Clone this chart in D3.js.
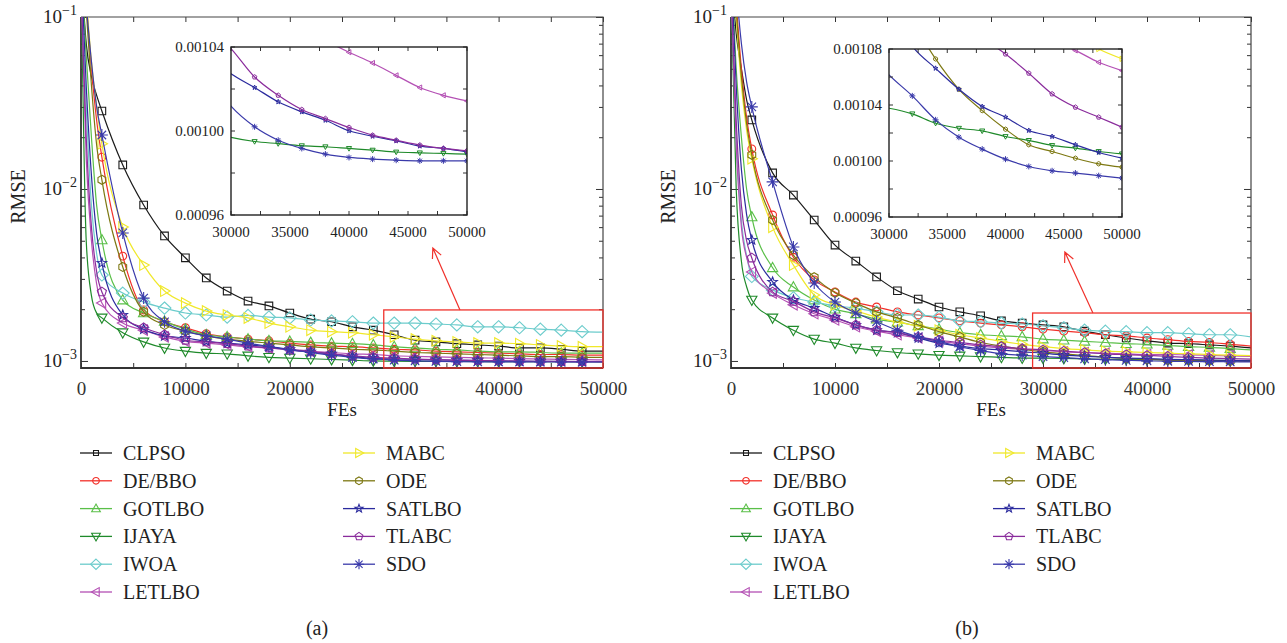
<!DOCTYPE html>
<html>
<head>
<meta charset="utf-8">
<script src="https://cdn.jsdelivr.net/npm/d3@7"></script>
<style>
  body { margin: 0; background: #fff; }
  svg { display: block; font-family: "Liberation Serif", "Times New Roman", serif; }
</style>
</head>
<body>
<svg id="chart" width="1287" height="643"></svg>
<script>
// ---------------- data ----------------
const fes = [0, 500, 1000, 1500, 2000, 4000, 6000, 8000, 10000, 12000, 14000, 16000, 18000, 20000,
  22000, 24000, 26000, 28000, 30000, 32000, 34000, 36000, 38000, 40000, 42000, 44000, 46000, 48000, 50000]
const mainMarkerFes = [2000, 4000, 6000, 8000, 10000, 12000, 14000, 16000, 18000, 20000, 22000, 24000,
  26000, 28000, 30000, 32000, 34000, 36000, 38000, 40000, 42000, 44000, 46000, 48000]
const insetMarkerFes = [32000, 34000, 36000, 38000, 40000, 42000, 44000, 46000, 48000, 50000]

const methods = ['CLPSO', 'DE/BBO', 'GOTLBO', 'IJAYA', 'IWOA', 'LETLBO', 'MABC', 'ODE', 'SATLBO', 'TLABC', 'SDO']
const colors = ['#1a1a1a', '#f2302a', '#5abf48', '#1f8a2a', '#6ccccc', '#b450b4', '#f0e82a', '#7d7812', '#2b2b9e', '#8a2c9c', '#3a3aaa']
const shapes = ['square', 'circle', 'triUp', 'triDown', 'diamond', 'triLeft', 'triRight', 'hexagon', 'star', 'pentagon', 'asterisk']

// panel (a)
const clpsoA = [0.2, 0.07, 0.045, 0.035, 0.0284, 0.0138, 0.00807, 0.00533, 0.00398, 0.00304, 0.00255, 0.00223, 0.00209, 0.0019, 0.00175, 0.00169, 0.00158, 0.00151, 0.00142, 0.00132, 0.00129, 0.00126, 0.00124, 0.00122, 0.00119, 0.00119, 0.00117, 0.00114, 0.00114]
const debboA = [0.3, 0.12, 0.05, 0.025, 0.0153, 0.00407, 0.00198, 0.00169, 0.00156, 0.00144, 0.00138, 0.00134, 0.00131, 0.00127, 0.00124, 0.00122, 0.00121, 0.00119, 0.00117, 0.00116, 0.00114, 0.00113, 0.00112, 0.00111, 0.0011, 0.00109, 0.00109, 0.00108, 0.00108]
const gotlboA = [0.2, 0.06, 0.02, 0.008, 0.00505, 0.00226, 0.0019, 0.0017, 0.00153, 0.00142, 0.00138, 0.00134, 0.00131, 0.0013, 0.00128, 0.00127, 0.00126, 0.00124, 0.00121, 0.00119, 0.00117, 0.00116, 0.00114, 0.00113, 0.00113, 0.00112, 0.00111, 0.00111, 0.00111]
const ijayaA = [0.2, 0.005, 0.0024, 0.0019, 0.00178, 0.00146, 0.00129, 0.00119, 0.00114, 0.00111, 0.0011, 0.00107, 0.00105, 0.00104, 0.00103, 0.00102, 0.00101, 0.001, 0.000997, 0.000995, 0.000994, 0.000993, 0.0009925, 0.0009917, 0.0009909, 0.00099, 0.0009896, 0.0009893, 0.000989]
const iwoaA = [0.15, 0.03, 0.008, 0.0042, 0.00316, 0.00248, 0.0022, 0.00203, 0.0019, 0.00185, 0.0018, 0.00184, 0.0018, 0.00178, 0.00173, 0.00171, 0.00169, 0.00166, 0.00166, 0.00166, 0.00164, 0.00162, 0.00158, 0.00158, 0.00156, 0.00153, 0.00151, 0.00148, 0.00147]
const letlboA = [0.15, 0.015, 0.005, 0.0028, 0.00217, 0.00166, 0.00151, 0.00138, 0.0013, 0.00127, 0.00124, 0.00121, 0.00119, 0.00117, 0.00114, 0.00112, 0.0011, 0.00109, 0.001072, 0.001063, 0.001055, 0.001048, 0.001043, 0.0010375, 0.0010324, 0.0010265, 0.0010207, 0.001017, 0.0010143]
const mabcA = [0.3, 0.13, 0.055, 0.03, 0.0183, 0.00601, 0.00361, 0.00255, 0.00217, 0.00195, 0.00185, 0.00178, 0.00166, 0.00158, 0.00151, 0.00148, 0.00146, 0.00142, 0.00138, 0.00134, 0.00131, 0.00129, 0.00127, 0.00127, 0.00126, 0.00124, 0.00122, 0.00121, 0.00121]
const odeA = [0.3, 0.11, 0.04, 0.018, 0.0113, 0.00352, 0.00193, 0.00162, 0.00149, 0.0014, 0.00134, 0.0013, 0.00127, 0.00124, 0.00121, 0.00119, 0.00117, 0.00116, 0.00114, 0.00112, 0.00111, 0.0011, 0.00109, 0.00108, 0.00107, 0.00106, 0.00106, 0.00105, 0.00105]
const satlboA = [0.2, 0.04, 0.012, 0.0055, 0.00371, 0.00185, 0.00153, 0.0014, 0.00136, 0.0013, 0.00127, 0.00124, 0.00121, 0.00117, 0.00113, 0.0011, 0.00106, 0.001036, 0.0010273, 0.0010207, 0.0010139, 0.0010091, 0.0010051, 0.0010001, 0.0009975, 0.0009953, 0.0009928, 0.0009917, 0.00099]
const tlabcA = [0.15, 0.02, 0.006, 0.0033, 0.00252, 0.00178, 0.00156, 0.00142, 0.00132, 0.00129, 0.00126, 0.00122, 0.00119, 0.00116, 0.00113, 0.0011, 0.00107, 0.00105, 0.0010392, 0.0010257, 0.001017, 0.0010102, 0.0010059, 0.0010017, 0.000998, 0.0009956, 0.0009933, 0.0009917, 0.0009906]
const sdoA = [0.3, 0.12, 0.055, 0.03, 0.0206, 0.00555, 0.00232, 0.00169, 0.00149, 0.0014, 0.00134, 0.00127, 0.00121, 0.00116, 0.00112, 0.00108, 0.00105, 0.001027, 0.0010118, 0.001002, 0.0009956, 0.0009917, 0.000989, 0.0009874, 0.0009866, 0.0009861, 0.0009858, 0.0009858, 0.0009858]

// panel (b)
const clpsoB = [0.2, 0.08, 0.05, 0.033, 0.0252, 0.0124, 0.00922, 0.0066, 0.00472, 0.00381, 0.00308, 0.00256, 0.00229, 0.00206, 0.00193, 0.00183, 0.00171, 0.00166, 0.00162, 0.00158, 0.00149, 0.00142, 0.00136, 0.00131, 0.00127, 0.00126, 0.00124, 0.00122, 0.00119]
const debboB = [0.3, 0.12, 0.05, 0.026, 0.0171, 0.00706, 0.00401, 0.00296, 0.00252, 0.0022, 0.00206, 0.00193, 0.00185, 0.00178, 0.00171, 0.00166, 0.00162, 0.00158, 0.00153, 0.00149, 0.00146, 0.00142, 0.0014, 0.00136, 0.00133, 0.0013, 0.00128, 0.00125, 0.00122]
const gotlboB = [0.2, 0.05, 0.02, 0.01, 0.00687, 0.00348, 0.00269, 0.00226, 0.002, 0.00188, 0.00175, 0.00168, 0.0016, 0.00153, 0.00146, 0.00142, 0.0014, 0.00138, 0.00134, 0.00132, 0.0013, 0.00128, 0.00126, 0.00125, 0.00123, 0.00121, 0.0012, 0.00118, 0.00116]
const ijayaB = [0.15, 0.01, 0.0038, 0.0027, 0.00226, 0.00178, 0.00151, 0.00134, 0.00127, 0.00119, 0.00115, 0.00112, 0.0011, 0.00108, 0.00107, 0.00106, 0.00105, 0.00104, 0.0010377, 0.0010337, 0.001027, 0.0010234, 0.0010215, 0.0010175, 0.0010147, 0.0010111, 0.0010092, 0.0010068, 0.0010051]
const iwoaB = [0.15, 0.02, 0.0065, 0.0041, 0.0031, 0.00259, 0.00233, 0.0022, 0.00209, 0.00203, 0.00193, 0.00185, 0.00185, 0.0018, 0.00171, 0.00169, 0.00166, 0.00164, 0.0016, 0.00156, 0.00151, 0.00149, 0.00148, 0.00146, 0.00146, 0.00144, 0.00142, 0.00142, 0.00138]
const letlboB = [0.15, 0.018, 0.006, 0.004, 0.00329, 0.00248, 0.00212, 0.00188, 0.00173, 0.00158, 0.00149, 0.00142, 0.00136, 0.0013, 0.00126, 0.00122, 0.00119, 0.00117, 0.00115, 0.00113, 0.00112, 0.00111, 0.0011, 0.00109, 0.00109, 0.001086, 0.001079, 0.0010705, 0.0010646]
const mabcB = [0.3, 0.1, 0.04, 0.022, 0.015, 0.006, 0.00361, 0.00242, 0.00212, 0.00195, 0.0018, 0.00168, 0.0016, 0.00151, 0.00142, 0.00136, 0.0013, 0.00125, 0.00121, 0.00118, 0.00116, 0.00114, 0.00113, 0.00112, 0.00111, 0.0011, 0.00109, 0.00108, 0.001073]
const odeB = [0.3, 0.11, 0.045, 0.024, 0.0158, 0.0066, 0.00413, 0.00307, 0.00249, 0.00217, 0.00193, 0.00178, 0.00162, 0.00148, 0.00138, 0.00128, 0.00122, 0.00117, 0.00113, 0.0011, 0.0010729, 0.0010512, 0.001036, 0.0010227, 0.0010116, 0.0010068, 0.001002, 0.000998, 0.0009956]
const satlboB = [0.2, 0.04, 0.013, 0.0071, 0.00505, 0.00288, 0.00226, 0.00203, 0.0018, 0.00162, 0.00151, 0.00146, 0.00136, 0.00127, 0.00122, 0.00118, 0.00116, 0.00113, 0.00111, 0.001082, 0.0010662, 0.0010512, 0.0010389, 0.0010313, 0.0010218, 0.0010175, 0.0010116, 0.0010061, 0.001002]
const tlabcB = [0.15, 0.025, 0.008, 0.005, 0.00397, 0.00252, 0.00222, 0.00193, 0.00178, 0.00162, 0.00151, 0.00146, 0.00138, 0.00132, 0.00128, 0.00124, 0.00121, 0.00118, 0.00116, 0.00114, 0.00112, 0.0011, 0.001088, 0.0010764, 0.0010627, 0.0010479, 0.0010384, 0.0010313, 0.0010242]
const sdoB = [0.4, 0.15, 0.07, 0.042, 0.030, 0.011, 0.0046, 0.00284, 0.0022, 0.0019, 0.00169, 0.00151, 0.00138, 0.0013, 0.00121, 0.00115, 0.0011, 0.00108, 0.0010615, 0.0010465, 0.0010294, 0.001017, 0.0010085, 0.0010013, 0.0009961, 0.000993, 0.0009914, 0.0009895, 0.0009878]

const seriesA = [clpsoA, debboA, gotlboA, ijayaA, iwoaA, letlboA, mabcA, odeA, satlboA, tlabcA, sdoA]
const seriesB = [clpsoB, debboB, gotlboB, ijayaB, iwoaB, letlboB, mabcB, odeB, satlboB, tlabcB, sdoB]

// ticks / labels
const xTicks = [0, 5000, 10000, 15000, 20000, 25000, 30000, 35000, 40000, 45000, 50000]
const xTickLabels = [0, 10000, 20000, 30000, 40000, 50000]
const yLabelValues = [0.1, 0.01, 0.001]
const yLabelExps = ['\u22121', '\u22122', '\u22123']
const insetXTicks = [30000, 32500, 35000, 37500, 40000, 42500, 45000, 47500, 50000]
const insetXLabels = [30000, 35000, 40000, 45000, 50000]
const insetYTicksA = [0.00096, 0.00098, 0.00100, 0.00102, 0.00104]
const insetYLabelsA = ['0.00096', '0.00100', '0.00104']
const insetYTicksB = [0.00096, 0.00098, 0.00100, 0.00102, 0.00104, 0.00106, 0.00108]
const insetYLabelsB = ['0.00096', '0.00100', '0.00104', '0.00108']

// ---------------- layout ----------------
const plotTop = 17, plotBottom = 368
const markerR = { square: 3.8, circle: 3.9, triUp: 5.4, triDown: 5.4, triLeft: 5.4, triRight: 5.6, diamond: 6.4, hexagon: 4.5, star: 5, pentagon: 4.8, asterisk: 6 }

const panels = [
  { series: seriesA, left: 81, right: 603, inset: { x0: 231, x1: 467, y0: 47, y1: 215 },
    insetY: [0.00096, 0.00104], insetYTicks: insetYTicksA, insetYLabels: insetYLabelsA,
    boxX: 29000, boxTop: 0.00198, arrowFrom: [36300, 0.00198], arrowTo: [33700, 0.00454],
    rmseX: 25, legendX: 80, tag: '(a)' },
  { series: seriesB, left: 731, right: 1251, inset: { x0: 889, x1: 1122, y0: 49, y1: 217 },
    insetY: [0.00096, 0.00108], insetYTicks: insetYTicksB, insetYLabels: insetYLabelsB,
    boxX: 29000, boxTop: 0.0019, arrowFrom: [34800, 0.0019], arrowTo: [32100, 0.0043],
    rmseX: 675, legendX: 730, tag: '(b)' }
]

const svg = d3.select('#chart')
const defs = svg.append('defs')

function shapePath(kind, r) {
  const poly = pts => 'M' + pts.map(p => p[0].toFixed(2) + ',' + p[1].toFixed(2)).join('L') + 'Z'
  const ring = (n, rot, rad) => d3.range(n).map(i => {
    const a = rot + i * 2 * Math.PI / n
    return [rad * Math.cos(a), rad * Math.sin(a)]
  })
  switch (kind) {
    case 'square': return poly([[-r, -r], [r, -r], [r, r], [-r, r]])
    case 'circle': return `M${r},0A${r},${r} 0 1,1 ${-r},0A${r},${r} 0 1,1 ${r},0Z`
    case 'triUp': return poly([[0, -r], [r * 0.95, r * 0.7], [-r * 0.95, r * 0.7]])
    case 'triDown': return poly([[0, r], [r * 0.95, -r * 0.7], [-r * 0.95, -r * 0.7]])
    case 'triLeft': return poly([[-r, 0], [r * 0.7, -r * 0.95], [r * 0.7, r * 0.95]])
    case 'triRight': return poly([[r, 0], [-r * 0.7, -r * 0.95], [-r * 0.7, r * 0.95]])
    case 'diamond': return poly([[0, -r * 0.95], [r, 0], [0, r * 0.95], [-r, 0]])
    case 'hexagon': return poly(ring(6, -Math.PI / 2, r))
    case 'pentagon': return poly(ring(5, -Math.PI / 2, r))
    case 'star': {
      const pts = d3.range(10).map(i => {
        const a = -Math.PI / 2 + i * Math.PI / 5, rr = i % 2 ? r * 0.42 : r
        return [rr * Math.cos(a), rr * Math.sin(a)]
      })
      return poly(pts)
    }
    case 'asterisk': {
      const d = r * 0.707
      return `M${-r},0L${r},0M0,${-r}L0,${r}M${-d},${-d}L${d},${d}M${-d},${d}L${d},${-d}`
    }
  }
}

panels.forEach((p, pi) => {
  const x = d3.scaleLinear().domain([0, 50000]).range([p.left, p.right])
  const y = d3.scaleLog().domain([0.00091, 0.1]).range([plotBottom, plotTop])
  const g = svg.append('g')

  defs.append('clipPath').attr('id', 'clipMain' + pi)
    .append('rect').attr('x', p.left).attr('y', plotTop).attr('width', p.right - p.left).attr('height', plotBottom - plotTop)

  // axes
  const axisFont = sel => sel.attr('font-family', '"Liberation Serif", serif').attr('font-size', 19).attr('color', '#333')
  g.append('g').attr('transform', `translate(0,${plotBottom})`)
    .call(d3.axisBottom(x).tickValues(xTicks).tickSize(-5).tickPadding(14)
      .tickFormat(d => xTickLabels.includes(d) ? d : ''))
    .call(axisFont).call(s => s.select('.domain').remove())
  g.append('g').attr('transform', `translate(0,${plotTop})`)
    .call(d3.axisTop(x).tickValues(xTicks).tickSize(-5).tickFormat(''))
    .call(axisFont).call(s => s.select('.domain').remove())

  const isMajor = d => Math.abs(Math.log10(d) - Math.round(Math.log10(d))) < 1e-6
  g.append('g').attr('transform', `translate(${p.left},0)`)
    .call(d3.axisLeft(y).tickValues(y.ticks()).tickSize(-4).tickFormat(''))
    .call(axisFont).call(s => s.select('.domain').remove())
    .call(s => s.selectAll('.tick line').attr('x2', d => isMajor(d) ? 7 : 4))
  g.append('g').attr('transform', `translate(${p.right},0)`)
    .call(d3.axisRight(y).tickValues(y.ticks()).tickSize(-4).tickFormat(''))
    .call(axisFont).call(s => s.select('.domain').remove())
    .call(s => s.selectAll('.tick line').attr('x2', d => isMajor(d) ? -7 : -4))

  // frame
  g.append('path').attr('d', `M${p.left},${plotTop}H${p.right}V${plotBottom}`)
    .attr('fill', 'none').attr('stroke', '#444').attr('stroke-width', 1.2)
  g.append('path').attr('d', `M${p.left},${plotTop}V${plotBottom}H${p.right}`)
    .attr('fill', 'none').attr('stroke', '#333').attr('stroke-width', 1.8)

  // y tick labels 10^k
  yLabelValues.forEach((v, i) => {
    const t = g.append('text').attr('x', p.left - 4).attr('y', y(v) + 6)
      .attr('text-anchor', 'end').attr('font-size', 19).attr('fill', '#222')
    t.append('tspan').text('10')
    t.append('tspan').attr('dy', -8).attr('font-size', 14).text(yLabelExps[i])
  })

  g.append('text').attr('transform', `translate(${p.rmseX},${(plotTop + plotBottom) / 2 + 4}) rotate(-90)`)
    .attr('text-anchor', 'middle').attr('font-size', 20).attr('fill', '#222').text('RMSE')
  g.append('text').attr('x', (p.left + p.right) / 2).attr('y', 416)
    .attr('text-anchor', 'middle').attr('font-size', 19).attr('fill', '#222').text('FEs')

  // curves
  const line = d3.line().x(d => x(d[0])).y(d => y(d[1])).curve(d3.curveMonotoneX)
  const plot = g.append('g').attr('clip-path', `url(#clipMain${pi})`)
  p.series.forEach((vals, si) => {
    const pts = fes.map((f, i) => [f, vals[i]])
    plot.append('path').datum(pts).attr('d', line)
      .attr('fill', 'none').attr('stroke', colors[si]).attr('stroke-width', 1.2)
    plot.selectAll(null).data(pts.filter(d => mainMarkerFes.includes(d[0])))
      .join('path')
      .attr('transform', d => `translate(${x(d[0])},${y(d[1])})`)
      .attr('d', shapePath(shapes[si], markerR[shapes[si]]))
      .attr('fill', 'none').attr('stroke', colors[si]).attr('stroke-width', 1.1)
  })

  // zoom box + arrow
  g.append('rect').attr('x', x(p.boxX)).attr('y', y(p.boxTop))
    .attr('width', p.right - x(p.boxX)).attr('height', plotBottom - y(p.boxTop))
    .attr('fill', 'none').attr('stroke', '#f0322c').attr('stroke-width', 1.3)
  const ax0 = x(p.arrowFrom[0]), ay0 = y(p.arrowFrom[1]), ax1 = x(p.arrowTo[0]), ay1 = y(p.arrowTo[1])
  const ang = Math.atan2(ay0 - ay1, ax0 - ax1)
  const head = [ang - 0.45, ang + 0.45].map(a => [ax1 + 11 * Math.cos(a), ay1 + 11 * Math.sin(a)])
  g.append('path')
    .attr('d', `M${ax0},${ay0}L${ax1},${ay1}M${head[0][0]},${head[0][1]}L${ax1},${ay1}L${head[1][0]},${head[1][1]}`)
    .attr('fill', 'none').attr('stroke', '#f0322c').attr('stroke-width', 1.2)

  // inset
  const ins = p.inset
  const xi = d3.scaleLinear().domain([30000, 50000]).range([ins.x0, ins.x1])
  const yi = d3.scaleLinear().domain(p.insetY).range([ins.y1, ins.y0])
  defs.append('clipPath').attr('id', 'clipInset' + pi)
    .append('rect').attr('x', ins.x0).attr('y', ins.y0).attr('width', ins.x1 - ins.x0).attr('height', ins.y1 - ins.y0)
  const gi = svg.append('g')
  gi.append('rect').attr('x', ins.x0).attr('y', ins.y0).attr('width', ins.x1 - ins.x0).attr('height', ins.y1 - ins.y0)
    .attr('fill', '#fff')

  const lineI = d3.line().x(d => xi(d[0])).y(d => yi(d[1])).curve(d3.curveMonotoneX)
  const plotI = gi.append('g').attr('clip-path', `url(#clipInset${pi})`)
  p.series.forEach((vals, si) => {
    const pts = fes.map((f, i) => [f, vals[i]]).filter(d => d[0] >= 28000)
    plotI.append('path').datum(pts).attr('d', lineI)
      .attr('fill', 'none').attr('stroke', colors[si]).attr('stroke-width', 1.2)
    plotI.selectAll(null)
      .data(pts.filter(d => insetMarkerFes.includes(d[0]) && d[1] >= p.insetY[0] && d[1] <= p.insetY[1]))
      .join('path')
      .attr('transform', d => `translate(${xi(d[0])},${yi(d[1])})`)
      .attr('d', shapePath(shapes[si], markerR[shapes[si]] * 0.5))
      .attr('fill', 'none').attr('stroke', colors[si]).attr('stroke-width', 1)
  })

  // inset ticks
  const tk = gi.append('g').attr('stroke', '#333').attr('stroke-width', 1)
  insetXTicks.forEach(v => {
    tk.append('line').attr('x1', xi(v)).attr('x2', xi(v)).attr('y1', ins.y1).attr('y2', ins.y1 - 4)
    tk.append('line').attr('x1', xi(v)).attr('x2', xi(v)).attr('y1', ins.y0).attr('y2', ins.y0 + 4)
  })
  p.insetYTicks.forEach(v => {
    tk.append('line').attr('x1', ins.x0).attr('x2', ins.x0 + 4).attr('y1', yi(v)).attr('y2', yi(v))
    tk.append('line').attr('x1', ins.x1).attr('x2', ins.x1 - 4).attr('y1', yi(v)).attr('y2', yi(v))
  })
  gi.append('rect').attr('x', ins.x0).attr('y', ins.y0).attr('width', ins.x1 - ins.x0).attr('height', ins.y1 - ins.y0)
    .attr('fill', 'none').attr('stroke', '#222').attr('stroke-width', 1.4)
  insetXLabels.forEach(v => {
    gi.append('text').attr('x', xi(v)).attr('y', ins.y1 + 22).attr('text-anchor', 'middle')
      .attr('font-size', 15).attr('fill', '#222').text(v)
  })
  p.insetYLabels.forEach(s => {
    gi.append('text').attr('x', ins.x0 - 7).attr('y', yi(+s) + 5).attr('text-anchor', 'end')
      .attr('font-size', 15).attr('fill', '#222').text(s)
  })

  // legend
  const lg = svg.append('g')
  methods.forEach((m, si) => {
    const col = si < 6 ? 0 : 1, row = si < 6 ? si : si - 6
    const lx = p.legendX + col * 263, ly = 453 + row * 27.8
    lg.append('line').attr('x1', lx).attr('x2', lx + 32).attr('y1', ly).attr('y2', ly)
      .attr('stroke', colors[si]).attr('stroke-width', 1.3)
    const r = markerR[shapes[si]] * (shapes[si] === 'square' ? 0.65 : 0.85)
    lg.append('path').attr('transform', `translate(${lx + 16},${ly})`)
      .attr('d', shapePath(shapes[si], r))
      .attr('fill', 'none').attr('stroke', colors[si]).attr('stroke-width', 1.1)
    lg.append('text').attr('x', lx + 43).attr('y', ly + 7).attr('font-size', 20).attr('fill', '#222').text(m)
  })
  svg.append('text').attr('x', p.legendX + 237).attr('y', 635).attr('text-anchor', 'middle')
    .attr('font-size', 20).attr('fill', '#222').text(p.tag)
})
</script>
</body>
</html>
